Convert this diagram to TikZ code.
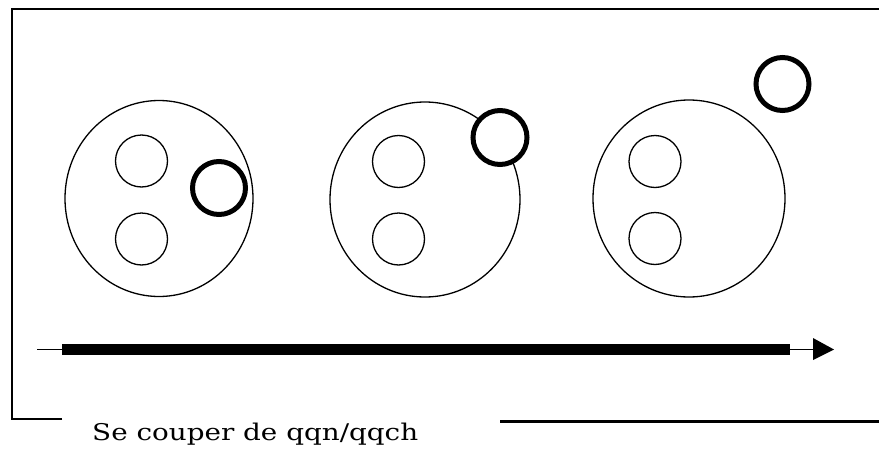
\documentclass[tikz,border=0pt]{standalone}
\usepackage{fontspec}
\usepackage{graphicx}
\setmainfont{DejaVu Serif}
\begin{document}
\begin{tikzpicture}[x=1pt,y=-1pt,
  thinc/.style={line width=1.3pt},
  ringc/.style={line width=5pt, fill=white},
  frame/.style={line width=2.2pt},
  lbl/.style={font=\fontsize{23}{25}\selectfont, inner sep=0pt, anchor=base west}]
\useasboundingbox[fill=white] (0,0) rectangle (879,450);
% frame
\coordinate (fbl) at (12,419);
\coordinate (ftl) at (12,9);
\coordinate (ftr) at (879,9);
\coordinate (fbe) at (62,419);
\coordinate (fr1) at (500,421.5);
\coordinate (fr2) at (879,421.5);
\draw[frame] (fbe) -- (fbl) -- (ftl) -- (ftr);
\draw[frame] (fr1) -- (fr2);
\node[lbl] (title) at (92,440) {\resizebox{326pt}{\height}{Se couper de qqn/qqch}};
% big circles
\draw[thinc] (159,198.5) ellipse [x radius=94, y radius=98];
\draw[thinc] (425,199.5) ellipse [x radius=95, y radius=97.5];
\draw[thinc] (689,198.5) ellipse [x radius=96, y radius=98.5];
% small circles
\draw[thinc] (141.5,161) circle [radius=26];
\draw[thinc] (141.5,239) circle [radius=26];
\draw[thinc] (398.5,161.5) circle [radius=26];
\draw[thinc] (398.5,239) circle [radius=26];
\draw[thinc] (655,161.5) circle [radius=26];
\draw[thinc] (655,238.5) circle [radius=26];
% thick rings
\draw[ringc] (219,188) circle [radius=26.5];
\draw[ringc] (500,137.5) circle [radius=27];
\draw[ringc] (782.5,84) circle [radius=26.5];
% arrow
\coordinate (a0) at (37,349.5);
\coordinate (a1) at (62,349.5);
\coordinate (a2) at (790,349.5);
\coordinate (a3) at (813,349.5);
\draw[line width=1.3pt] (a0) -- (a3);
\draw[line width=10.5pt] (a1) -- (a2);
\fill (813,338) -- (834,349.5) -- (813,360) -- cycle;
\end{tikzpicture}
\end{document}
